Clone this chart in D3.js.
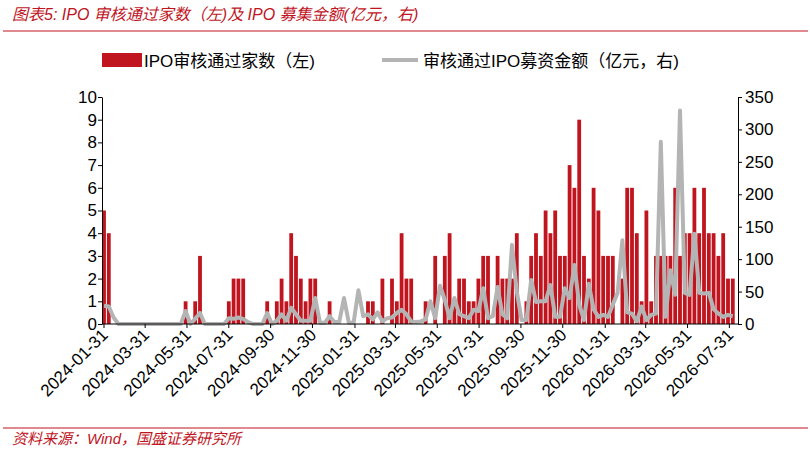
<!DOCTYPE html>
<html><head><meta charset="utf-8">
<script src="https://cdn.jsdelivr.net/npm/d3@7"></script>
<style>
body{margin:0;background:#fff;font-family:"Liberation Sans","Noto Sans CJK SC",sans-serif;}
</style></head>
<body><svg id="chart" width="810" height="453"></svg>
<script>
// weekly IPO approvals (left) and amount raised (right, 亿元), first week 2024-01-31
const counts = [5,4,0,0,0,0,0,0,0,0,0,0,0,0,0,0,0,1,0,1,3,0,0,0,0,0,1,2,2,2,
  0,0,0,0,1,0,1,2,1,4,3,2,1,2,2,0,0,1,0,0,0,0,0,0,0,1,1,0,2,0,
  2,1,4,2,2,0,0,1,0,3,0,3,4,1,2,2,1,1,2,3,3,0,3,2,2,2,4,0,1,3,
  4,3,5,4,5,3,3,7,6,9,3,2,6,5,3,3,3,0,2,6,6,4,1,5,1,3,3,3,3,6,
  3,4,4,6,4,6,4,4,3,4,2,2];
const amounts = [28,27,10,0,0,0,0,0,0,0,0,0,0,0,0,0,0,20,0,8,17,0,0,0,0,0,9,8,10,8,
  3,0,0,0,17,0,5,15,5,25,15,5,5,5,40,2,2,12,3,3,40,2,2,52,12,15,7,18,4,9,
  10,17,22,15,4,3,4,7,35,9,59,37,9,40,15,12,9,22,20,55,9,12,57,15,9,122,50,6,6,68,
  34,35,35,60,11,11,55,40,91,30,6,62,23,11,14,11,30,48,129,18,16,4,27,6,14,16,281,11,83,45,
  329,48,45,139,48,47,48,23,16,11,14,12];
const tickLabels = ["2024-01-31","2024-03-31","2024-05-31","2024-07-31","2024-09-30","2024-11-30",
  "2025-01-31","2025-03-31","2025-05-31","2025-07-31","2025-09-30","2025-11-30",
  "2026-01-31","2026-03-31","2026-05-31","2026-07-31"];

const svg = d3.select("#chart");
const red = "#c0141e", gray = "#b4b4b4", titleRed = "#c0141e";
const plotLeft = 104, pitch = 4.8, plotTop = 97, plotBottom = 324;

const start = new Date(2024, 0, 31);
const weeks = counts.map((c, i) => d3.timeDay.offset(start, 7 * i));
const x = d3.scaleTime()
  .domain([start, weeks[weeks.length - 1]])
  .range([plotLeft, plotLeft + pitch * (weeks.length - 1)]);
const yL = d3.scaleLinear().domain([0, 10]).range([plotBottom, plotTop]);
const yR = d3.scaleLinear().domain([0, 350]).range([plotBottom, plotTop]);

// title + rules
svg.append("text").attr("x", 12).attr("y", 20).attr("fill", titleRed)
  .attr("font-size", 16).attr("font-style", "italic")
  .text("图表5:  IPO 审核通过家数（左)及 IPO 募集金额(亿元，右)");
svg.append("line").attr("x1", 3).attr("x2", 808).attr("y1", 31).attr("y2", 31)
  .attr("stroke", titleRed).attr("stroke-width", 1);
svg.append("line").attr("x1", 3).attr("x2", 808).attr("y1", 428).attr("y2", 428)
  .attr("stroke", titleRed).attr("stroke-width", 1);
svg.append("text").attr("x", 12).attr("y", 444).attr("fill", titleRed)
  .attr("font-size", 15).attr("font-style", "italic")
  .text("资料来源：Wind，国盛证券研究所");

// legend
svg.append("rect").attr("x", 102).attr("y", 53).attr("width", 40).attr("height", 14).attr("fill", red);
svg.append("text").attr("x", 144).attr("y", 67).attr("font-size", 17).text("IPO审核通过家数（左)");
svg.append("line").attr("x1", 382).attr("x2", 418).attr("y1", 60).attr("y2", 60)
  .attr("stroke", gray).attr("stroke-width", 4);
svg.append("text").attr("x", 423).attr("y", 67).attr("font-size", 17).text("审核通过IPO募资金额（亿元，右)");

// bars
svg.append("g").selectAll("rect").data(counts).join("rect")
  .attr("x", (d, i) => x(weeks[i]) - 1.9)
  .attr("width", 3.8)
  .attr("y", d => yL(d))
  .attr("height", d => plotBottom - yL(d))
  .attr("fill", red);

// line
svg.append("path").datum(amounts)
  .attr("fill", "none").attr("stroke", gray).attr("stroke-width", 4)
  .attr("stroke-linejoin", "round")
  .attr("d", d3.line().x((d, i) => x(weeks[i])).y(d => yR(d)));

// axes
const ax = g => g.selectAll("text").attr("font-size", 17).attr("fill", "#000")
  .attr("font-family", "Liberation Sans");
svg.append("g").attr("transform", `translate(${plotLeft - 2},0)`)
  .call(d3.axisLeft(yL).ticks(10).tickSize(4).tickSizeOuter(0)).call(ax)
  .call(g => g.selectAll("text").attr("dx", 2));
svg.append("g").attr("transform", `translate(738,0)`)
  .call(d3.axisRight(yR).tickValues(d3.range(0, 351, 50)).tickSize(4).tickSizeOuter(0)).call(ax);

const parse = d3.timeParse("%Y-%m-%d");
const xa = svg.append("g").attr("transform", `translate(0,${plotBottom})`);
xa.append("line").attr("x1", plotLeft - 2).attr("x2", 738).attr("stroke", "#000");
xa.selectAll("g").data(tickLabels).join("g")
  .attr("transform", d => `translate(${x(parse(d))},0)`)
  .call(g => g.append("line").attr("y2", 4).attr("stroke", "#000"))
  .call(g => g.append("text").attr("transform", "translate(5,12) rotate(-45)")
    .attr("text-anchor", "end").attr("font-size", 17).text(d => d));
</script></body></html>
